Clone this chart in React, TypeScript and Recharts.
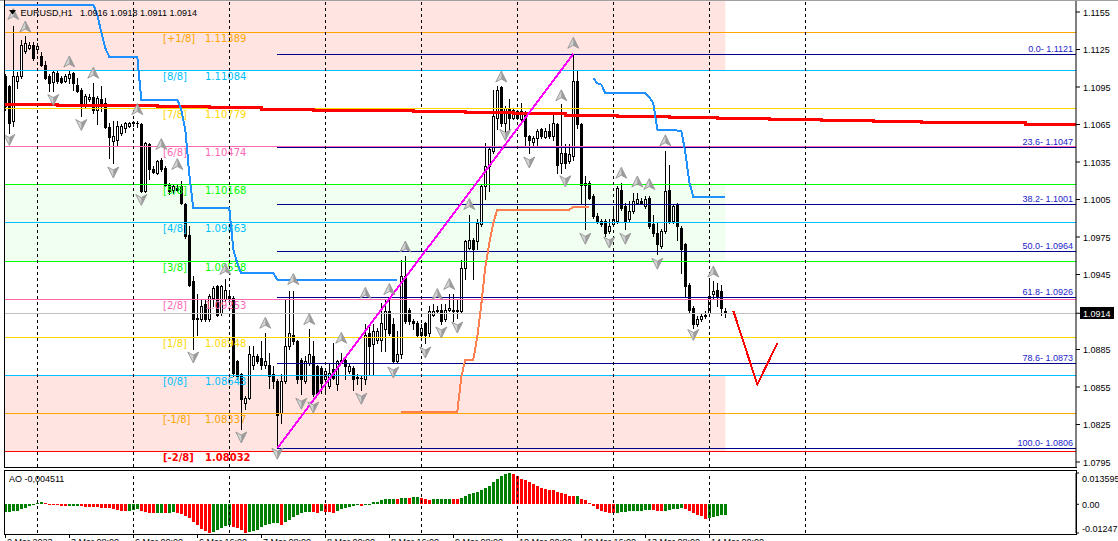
import React from "react";
import {
  ComposedChart,
  Bar,
  Line,
  Scatter,
  XAxis,
  YAxis,
  ReferenceLine,
  ReferenceArea,
} from "recharts";

// EURUSD H1, bar 0 is the leftmost candle
const open = [
  1.1104, 1.1096, 1.1068, 1.11, 1.1104, 1.1124, 1.1126, 1.1129, 1.1125, 1.112,
  1.1113, 1.1104, 1.1099, 1.1106, 1.1102, 1.11, 1.1102, 1.1106, 1.1097, 1.1093,
  1.108, 1.1085, 1.1087, 1.1077, 1.1085, 1.1082, 1.1063, 1.1052, 1.1053, 1.1058,
  1.1062, 1.1064, 1.1066, 1.1066, 1.1065, 1.1012, 1.1049, 1.1029, 1.1026, 1.1037,
  1.103, 1.1017, 1.1013, 1.1014, 1.1016, 1.1001, 1.0977, 1.094, 1.0909, 1.0909,
  1.0921, 1.0909, 1.0926, 1.0936, 1.0914, 1.0925, 1.0925, 1.0926, 1.0876, 1.0865,
  1.0842, 1.0846, 1.0873, 1.088, 1.0878, 1.0873, 1.0873, 1.0865, 1.086, 1.0834,
  1.086, 1.0888, 1.0897, 1.0892, 1.0877, 1.086, 1.0874, 1.088, 1.0872, 1.087,
  1.0861, 1.0856, 1.0869, 1.0857, 1.0876, 1.0877, 1.0868, 1.087, 1.0862, 1.0862,
  1.0861, 1.0898, 1.0889, 1.0893, 1.0893, 1.0901, 1.0916, 1.0905, 1.0876, 1.0881,
  1.0944, 1.0917, 1.0908, 1.0906, 1.0897, 1.0906, 1.0898, 1.0913, 1.0917, 1.0917,
  1.0909, 1.0917, 1.0917, 1.0917, 1.0916, 1.095, 1.0966, 1.0973, 1.0972, 1.0985,
  1.1016, 1.1032, 1.1044, 1.107, 1.1095, 1.1066, 1.1078, 1.107, 1.1076, 1.1069,
  1.1074, 1.1056, 1.1051, 1.1054, 1.1061, 1.1055, 1.106, 1.1056, 1.1065, 1.1034,
  1.1042, 1.1036, 1.104, 1.11, 1.1065, 1.1018, 1.1018, 1.1008, 1.0992, 1.0988,
  1.0988, 1.098, 1.0985, 1.0988, 1.1013, 1.1, 1.0989, 1.0996, 1.1002, 1.1004,
  1.1, 1.1006, 1.0985, 1.0978, 1.0968, 1.098, 1.1013, 1.0988, 1.1001, 1.0982,
  1.0969, 1.0937, 1.0918, 1.0905, 1.0909, 1.0912, 1.0914, 1.0929, 1.0933, 1.0932,
  1.0916,
];
const high = [
  1.1105, 1.1097, 1.1144, 1.1107, 1.1133, 1.1136, 1.1131, 1.1131, 1.113, 1.1123,
  1.1116, 1.1105, 1.1108, 1.1108, 1.1104, 1.1105, 1.1108, 1.1107, 1.1102, 1.1094,
  1.1089, 1.1089, 1.1098, 1.1088, 1.1096, 1.1086, 1.1066, 1.1068, 1.1068, 1.1065,
  1.1067, 1.1067, 1.1068, 1.1068, 1.1066, 1.1051, 1.105, 1.1032, 1.1037, 1.1038,
  1.1032, 1.1018, 1.1017, 1.1017, 1.102, 1.1002, 1.0984, 1.0944, 1.0929, 1.0925,
  1.0925, 1.0929, 1.0936, 1.0937, 1.0937, 1.0941, 1.0933, 1.0928, 1.0877, 1.0866,
  1.0848, 1.0888, 1.0888, 1.0881, 1.0892, 1.0898, 1.0882, 1.0872, 1.0861, 1.0865,
  1.0925, 1.0932, 1.0932, 1.0893, 1.0878, 1.088, 1.0901, 1.0892, 1.0873, 1.0872,
  1.0869, 1.0874, 1.089, 1.0877, 1.0882, 1.088, 1.0874, 1.0872, 1.0865, 1.0864,
  1.0905, 1.0905, 1.0905, 1.0902, 1.0922, 1.0925, 1.0925, 1.091, 1.09, 1.0957,
  1.096, 1.0918, 1.0909, 1.0908, 1.0905, 1.0907, 1.092, 1.0921, 1.092, 1.0921,
  1.0921, 1.0929, 1.0929, 1.0925, 1.0957, 1.0973, 1.0993, 1.0974, 1.0989, 1.1017,
  1.105, 1.1048, 1.1093, 1.1096, 1.1096, 1.108, 1.1085, 1.1078, 1.1077, 1.1082,
  1.1076, 1.1057, 1.1056, 1.1061, 1.1062, 1.1062, 1.1065, 1.1073, 1.1066, 1.1081,
  1.1049, 1.1049, 1.1121, 1.1108, 1.1066, 1.1024, 1.102, 1.1009, 1.0994, 1.0989,
  1.0989, 1.0989, 1.1, 1.1016, 1.1018, 1.1002, 1.1004, 1.101, 1.101, 1.1006,
  1.1008, 1.1008, 1.0993, 1.0986, 1.0981, 1.1044, 1.1033, 1.1001, 1.1002, 1.0984,
  1.097, 1.0938, 1.092, 1.0912, 1.0914, 1.0916, 1.094, 1.094, 1.0938, 1.0937,
  1.0918,
];
const low = [
  1.1077, 1.1058, 1.1064, 1.1094, 1.1102, 1.1122, 1.1125, 1.1117, 1.1122, 1.1112,
  1.1101, 1.1092, 1.1092, 1.1098, 1.1098, 1.1099, 1.1098, 1.1093, 1.1091, 1.1072,
  1.1078, 1.1084, 1.1074, 1.1065, 1.1076, 1.1062, 1.1038, 1.1034, 1.1048, 1.1057,
  1.1059, 1.1063, 1.1064, 1.1063, 1.1011, 1.1011, 1.1021, 1.1026, 1.1025, 1.1028,
  1.1016, 1.1009, 1.101, 1.1012, 1.1001, 1.0974, 1.0936, 1.0885, 1.0897, 1.0908,
  1.0908, 1.0908, 1.092, 1.0912, 1.0913, 1.0924, 1.0924, 1.0864, 1.0861, 1.0821,
  1.0837, 1.0845, 1.0869, 1.0874, 1.0869, 1.087, 1.0854, 1.0854, 1.0806, 1.0826,
  1.0858, 1.0885, 1.0889, 1.0858, 1.0849, 1.0858, 1.0873, 1.0848, 1.0849, 1.085,
  1.0852, 1.0854, 1.0861, 1.0853, 1.0874, 1.0861, 1.0866, 1.0853, 1.0857, 1.0853,
  1.0857, 1.0865, 1.0865, 1.089, 1.0884, 1.0884, 1.0897, 1.0874, 1.0874, 1.0878,
  1.0906, 1.0905, 1.0901, 1.0896, 1.0896, 1.089, 1.0896, 1.0912, 1.0914, 1.0905,
  1.0908, 1.0916, 1.0908, 1.091, 1.0914, 1.0941, 1.0965, 1.0941, 1.0965, 1.0984,
  1.1005, 1.1012, 1.1042, 1.1061, 1.1064, 1.1058, 1.1061, 1.1069, 1.1069, 1.1068,
  1.1048, 1.1042, 1.1048, 1.1048, 1.1054, 1.1054, 1.1054, 1.1053, 1.1026, 1.1026,
  1.103, 1.1034, 1.1037, 1.1062, 1.1001, 1.0981, 1.1005, 1.099, 1.0986, 1.0984,
  1.0976, 1.0978, 1.0984, 1.0986, 1.0997, 1.0981, 1.0988, 1.0994, 1.1001, 1.1001,
  1.0998, 1.0982, 1.0976, 1.0961, 1.0966, 1.0978, 1.0986, 1.0986, 1.0973, 1.0946,
  1.0928, 1.0914, 1.0902, 1.0904, 1.0908, 1.091, 1.0913, 1.0926, 1.092, 1.0913,
  1.0911,
];
const close = [
  1.108, 1.1066, 1.1104, 1.1104, 1.1129, 1.113, 1.1129, 1.1118, 1.1128, 1.1113,
  1.1102, 1.1098, 1.1107, 1.11, 1.1099, 1.1104, 1.1105, 1.1098, 1.1092, 1.1081,
  1.1088, 1.1087, 1.1077, 1.1086, 1.1081, 1.1063, 1.1055, 1.1056, 1.1064, 1.1064,
  1.1066, 1.1066, 1.1067, 1.1066, 1.1012, 1.105, 1.1029, 1.1027, 1.1036, 1.1029,
  1.1017, 1.1012, 1.1016, 1.1013, 1.1002, 1.0976, 1.0937, 1.0909, 1.091, 1.092,
  1.0909, 1.0928, 1.0934, 1.0913, 1.0936, 1.0933, 1.0928, 1.0866, 1.0864, 1.0845,
  1.0846, 1.0881, 1.088, 1.0876, 1.0873, 1.0876, 1.0864, 1.086, 1.0833, 1.086,
  1.0888, 1.0898, 1.0892, 1.0861, 1.0861, 1.0876, 1.0881, 1.0849, 1.085, 1.0858,
  1.0868, 1.0866, 1.0862, 1.0876, 1.0877, 1.0872, 1.0872, 1.0861, 1.0863, 1.0862,
  1.0897, 1.0888, 1.09, 1.09, 1.0906, 1.0916, 1.0898, 1.0876, 1.0881, 1.0944,
  1.0908, 1.0908, 1.0906, 1.0897, 1.0902, 1.0897, 1.0916, 1.0916, 1.0916, 1.0908,
  1.0917, 1.0918, 1.0916, 1.0916, 1.095, 1.0972, 1.0973, 1.0965, 1.0986, 1.1016,
  1.1032, 1.1045, 1.1072, 1.1093, 1.1066, 1.1078, 1.107, 1.1077, 1.107, 1.1076,
  1.1056, 1.1053, 1.1054, 1.106, 1.1056, 1.106, 1.1056, 1.1066, 1.1033, 1.1042,
  1.1034, 1.1041, 1.11, 1.1065, 1.1017, 1.1017, 1.1006, 1.0992, 1.0988, 1.0985,
  1.0978, 1.0984, 1.0989, 1.1014, 1.0998, 1.0988, 1.0996, 1.1004, 1.1005, 1.1002,
  1.1005, 1.0984, 1.0978, 1.0969, 1.098, 1.1012, 1.0988, 1.1, 1.0984, 1.0965,
  1.0936, 1.0917, 1.0905, 1.0909, 1.0912, 1.0913, 1.0928, 1.0932, 1.0928, 1.0918,
  1.0914,
];

// Awesome Oscillator, one value per candle
const aoValues = [
  -0.0034, -0.0033, -0.0029, -0.0027, -0.0021, -0.0016, -0.0008, -0.0002, 0.0006, 0.0008,
  0.0005, 0.0002, -0.0001, -0.0003, -0.0007, -0.0008, -0.0007, -0.0007, -0.0006, -0.0009,
  -0.001, -0.0011, -0.0012, -0.0013, -0.0014, -0.0015, -0.0017, -0.0021, -0.0025, -0.0029,
  -0.003, -0.0028, -0.0025, -0.0021, -0.0027, -0.0033, -0.0037, -0.0039, -0.0038, -0.0036,
  -0.0038, -0.0037, -0.0033, -0.0036, -0.0042, -0.0049, -0.0061, -0.0078, -0.0089, -0.0106,
  -0.0117, -0.0123, -0.0121, -0.0111, -0.0102, -0.0094, -0.0089, -0.0098, -0.0104, -0.011,
  -0.01247, -0.0121, -0.0117, -0.0111, -0.0098, -0.0091, -0.0087, -0.0083, -0.0082, -0.0089,
  -0.0078, -0.0069, -0.0055, -0.0046, -0.0038, -0.0033, -0.0032, -0.0035, -0.0036, -0.003,
  -0.0033, -0.0035, -0.0036, -0.0027, -0.0021, -0.0016, -0.001, -0.0008, -0.0004, -0.0007,
  -0.0003, 0.0002, 0.0008, 0.0012, 0.0018, 0.0023, 0.0024, 0.0025, 0.0024, 0.0028,
  0.0029, 0.0028, 0.0031, 0.0032, 0.0028, 0.0021, 0.0018, 0.0021, 0.0023, 0.0023,
  0.0024, 0.0025, 0.0024, 0.0023, 0.0028, 0.0035, 0.0043, 0.0047, 0.0053, 0.006,
  0.007, 0.0081, 0.0096, 0.0112, 0.0124, 0.013, 0.013595, 0.0131, 0.0124, 0.0112,
  0.0105, 0.0096, 0.0086, 0.0078, 0.007, 0.0066, 0.0063, 0.006, 0.0053, 0.0047,
  0.0043, 0.0038, 0.0035, 0.0036, 0.0024, 0.0017, 0.0006, -0.0008, -0.0019, -0.0027,
  -0.0033, -0.0036, -0.0039, -0.0036, -0.0034, -0.0033, -0.003, -0.0029, -0.0028, -0.0027,
  -0.0026, -0.0025, -0.0026, -0.0028, -0.003, -0.0027, -0.0024, -0.0021, -0.0019, -0.0017,
  -0.0021, -0.003, -0.0038, -0.0046, -0.0052, -0.0062, -0.006, -0.0055, -0.005, -0.0047,
  -0.004511,
];

// Murrey Math levels
const murreyLevels = [
  1.11389, 1.11084, 1.10779, 1.10474, 1.10168, 1.09863, 1.09558, 1.09253, 1.08948,
  1.08643, 1.08337, 1.08032,
];
const murreyNames = [
  "[+1/8]", "[8/8]", "[7/8]", "[6/8]", "[5/8]", "[4/8]", "[3/8]", "[2/8]", "[1/8]",
  "[0/8]", "[-1/8]", "[-2/8]",
];
const murreyColors = [
  "#FFA500", "#00BFFF", "#FFD700", "#FF69B4", "#00FF00", "#00BFFF", "#00FF00",
  "#FF69B4", "#FFD700", "#00BFFF", "#FFA500", "#FF0000",
];

// Fibonacci retracement drawn from the swing low to the swing high
const fibLevels = [1.11214, 1.1047, 1.10009, 1.09637, 1.09265, 1.08735, 1.0806];
const fibNames = [
  "0.0- 1.1121", "23.6- 1.1047", "38.2- 1.1001", "50.0- 1.0964", "61.8- 1.0926",
  "78.6- 1.0873", "100.0- 1.0806",
];
const fibFromBar = 68;

const trendBars = [68, 142];
const trendValues = [1.0806, 1.11214];

const zigzagBars = [182, 188, 193];
const zigzagValues = [1.0916, 1.0857, 1.089];

// slow red average (steps), runs into the future area
const maBars = [-1, 13, 38, 51, 64, 77, 89, 102, 115, 127, 140, 153, 166, 178, 191, 204, 217, 229, 242, 255, 268];
const maValues = [
  1.10814, 1.108, 1.10792, 1.10784, 1.10774, 1.10766, 1.1076, 1.10752, 1.10744, 1.10736,
  1.10726, 1.10718, 1.1071, 1.10702, 1.10694, 1.10686, 1.10678, 1.1067, 1.10664, 1.10654,
  1.10654,
];

// blue trailing stop, two runs
const stopBars1 = [0, 22, 23, 24, 25, 26, 33, 34, 43, 44, 45, 46, 47, 56, 57, 58, 59, 67, 68, 98];
const stopValues1 = [
  1.1161, 1.1161, 1.11526, 1.1139, 1.1126, 1.1119, 1.1119, 1.1085, 1.1085, 1.1077,
  1.1061, 1.1025, 1.0998, 1.0998, 1.0965, 1.0954, 1.0946, 1.0946, 1.0941, 1.0941,
];
const stopBars2 = [147, 148, 149, 150, 160, 161, 162, 163, 169, 170, 171, 172, 180];
const stopValues2 = [
  1.1102, 1.1098, 1.1097, 1.109, 1.109, 1.1087, 1.1082, 1.1061, 1.106, 1.1043, 1.1019,
  1.1007, 1.1007,
];

// coral trailing line
const coralBars = [99, 113, 114, 115, 117, 118, 119, 120, 121, 122, 123, 141, 142, 146];
const coralValues = [
  1.0835, 1.0835, 1.0863, 1.0877, 1.0877, 1.0895, 1.0921, 1.0951, 1.097, 1.0986, 1.0997,
  1.0997, 1.0999, 1.0999,
];

// fractal arrows [bar, price]
const fractalUp = [
  [2, 1.1153], [5, 1.1143], [16, 1.1115], [22, 1.1106], [33, 1.1077], [39, 1.1049],
  [43, 1.1033], [55, 1.0949], [65, 1.0906], [72, 1.0941], [76, 1.0909], [84, 1.0894],
  [90, 1.093], [96, 1.0933], [100, 1.0967], [108, 1.0929], [111, 1.0937], [116, 1.1001],
  [124, 1.1103], [139, 1.1088], [142, 1.113], [154, 1.1026], [158, 1.1019], [161, 1.1017],
  [165, 1.1052], [177, 1.0947],
];
const fractalDown = [
  [1, 1.1053], [12, 1.1085], [19, 1.1065], [27, 1.1027], [34, 1.1005], [47, 1.0879],
  [59, 1.0815], [68, 1.0802], [74, 1.0842], [77, 1.0839], [89, 1.0846], [97, 1.0867],
  [105, 1.0883], [109, 1.0899], [113, 1.0903], [125, 1.1057], [131, 1.1035], [140, 1.102],
  [145, 1.0974], [151, 1.0971], [155, 1.0974], [163, 1.0954], [172, 1.0897],
];

const daySeparatorBars = [8, 32, 56, 80, 104, 128, 152, 176, 200];
const timeLabelBars = [0, 16, 32, 48, 64, 80, 96, 112, 128, 144, 160, 176];
const timeLabels = [
  "2 Mar 2023", "3 Mar 08:00", "6 Mar 00:00", "6 Mar 16:00", "7 Mar 08:00", "8 Mar 00:00",
  "8 Mar 16:00", "9 Mar 08:00", "10 Mar 00:00", "10 Mar 16:00", "13 Mar 08:00", "14 Mar 00:00",
];
const priceTicks = [
  1.1155, 1.1125, 1.1095, 1.1065, 1.1035, 1.1005, 1.0975, 1.0945, 1.0885, 1.0855, 1.0825, 1.0795,
];
const aoTicks = [0.013595, 0, -0.01247];
const aoTickLabels = ["0.013595", "0.00", "-0.01247"];

const W = 1118;
const MAIN_H = 467;
const AO_TOP = 468;
const AO_H = 73;
const AXIS_W = 42;
const PLOT_LEFT = 4;
const X_DOMAIN: [number, number] = [-0.325, 267.675];
const PRICE_DOMAIN: [number, number] = [1.0791, 1.11646];
const AO_DOMAIN: [number, number] = [-0.01247, 0.013595];

const lastIdx = close.length - 1;
const lastPrice = close[lastIdx];

const candles = open.map((o, i) => ({
  i,
  o,
  h: high[i],
  l: low[i],
  c: close[i],
  range: [low[i], high[i]],
}));

const aoRows = (() => {
  let up = true;
  return aoValues.map((v, i) => {
    if (i > 0 && v > aoValues[i - 1]) up = true;
    else if (i > 0 && v < aoValues[i - 1]) up = false;
    return { i, ao: v, up };
  });
})();

const toPoints = (bars: number[], vals: number[]) => bars.map((i, k) => ({ i, v: vals[k] }));

function CandleShape(props: any) {
  const { x, y, width, height, payload } = props;
  if (!payload) return null;
  const { o, h, l, c } = payload;
  const cx = Math.round(x + width / 2) + 0.5;
  const yTop = Math.min(y, y + height);
  const yBot = Math.max(y, y + height);
  const py = (v: number) => yTop + ((h - v) / (h - l)) * (yBot - yTop);
  const top = Math.round(py(Math.max(o, c))) + 0.5;
  const bot = Math.round(py(Math.min(o, c))) + 0.5;
  return (
    <g>
      <line x1={cx} x2={cx} y1={Math.round(yTop)} y2={Math.round(yBot) + 1} stroke="#000" />
      {bot - top < 1 ? (
        <line x1={cx - 1.5} x2={cx + 1.5} y1={top} y2={top} stroke="#000" />
      ) : (
        <rect x={cx - 1} y={top} width={2} height={bot - top} fill={c >= o ? "#fff" : "#000"} stroke="#000" />
      )}
    </g>
  );
}

function AoShape(props: any) {
  const { x, y, width, height, payload } = props;
  if (!payload) return null;
  const cx = Math.round(x + width / 2);
  const y0 = Math.round(Math.min(y, y + height));
  const y1 = Math.round(Math.max(y, y + height));
  return <rect x={cx - 1} y={y0} width={3} height={Math.max(1, y1 - y0)} fill={payload.up ? "#008000" : "#FF0000"} />;
}

// grey 3d arrowheads as drawn by the fractals indicator
function UpArrow(props: any) {
  const { cx, cy } = props;
  if (cx == null) return null;
  return (
    <g>
      <path d={`M${cx},${cy - 6} L${cx + 5.5},${cy + 5} L${cx},${cy + 2} L${cx - 5.5},${cy + 5} Z`} fill="#D4D4D4" stroke="#8A8A8A" strokeWidth={0.8} />
      <path d={`M${cx},${cy - 6} L${cx + 5.5},${cy + 5} L${cx},${cy + 2} Z`} fill="#9C9C9C" />
    </g>
  );
}

function DownArrow(props: any) {
  const { cx, cy } = props;
  if (cx == null) return null;
  return (
    <g>
      <path d={`M${cx},${cy + 6} L${cx + 5.5},${cy - 5} L${cx},${cy - 2} L${cx - 5.5},${cy - 5} Z`} fill="#D4D4D4" stroke="#8A8A8A" strokeWidth={0.8} />
      <path d={`M${cx},${cy + 6} L${cx + 5.5},${cy - 5} L${cx},${cy - 2} Z`} fill="#9C9C9C" />
    </g>
  );
}

const murreyLabel = (k: number) => (props: any) => {
  const vb = props.viewBox;
  if (!vb) return null;
  const y = vb.y + 9.5;
  return (
    <g fontFamily="DejaVu Sans" fontSize={10} fill={murreyColors[k]} fontWeight={k === 11 ? "bold" : "normal"}>
      <text x={vb.x + 159} y={y}>{murreyNames[k]}</text>
      <text x={vb.x + 201} y={y}>{murreyLevels[k].toFixed(5)}</text>
    </g>
  );
};

const fibLabel = (k: number) => (props: any) => {
  const vb = props.viewBox;
  if (!vb) return null;
  return (
    <text x={PLOT_LEFT + 1069} y={vb.y - 2.5} textAnchor="end" fontSize={9} fill="#1C1CCC">
      {fibNames[k]}
    </text>
  );
};

function PriceTick(props: any) {
  const { x, y, payload } = props;
  const v = payload.value;
  const yy = Math.round(y);
  if (v === lastPrice) {
    return (
      <g>
        <rect x={x - 3} y={yy - 6} width={34} height={12} fill="#000" />
        <text x={x} y={yy + 3.5} fontSize={9} fill="#fff">{v.toFixed(4)}</text>
      </g>
    );
  }
  return (
    <text x={x} y={yy + 3.5} fontSize={9} fill="#000">{v.toFixed(4)}</text>
  );
}

function AoTick(props: any) {
  const { x, y, payload, index } = props;
  const shift = index === 0 ? 5 : index === 2 ? -5 : 0;
  return (
    <text x={x} y={Math.round(y) + shift + 3.5} fontSize={9} fill="#000">{aoTickLabels[index] ?? String(payload.value)}</text>
  );
}

function TimeTick(props: any) {
  const { x, y, payload } = props;
  const k = timeLabelBars.indexOf(payload.value);
  const px = Math.round(x) + 0.5;
  return (
    <g>
      <line x1={px} x2={px} y1={y} y2={y + 3} stroke="#000" />
      <text x={px + 1.5} y={y + 10} fontSize={9} fill="#000">{timeLabels[k]}</text>
    </g>
  );
}

const crisp = "crispEdges";

export default function App() {
  const header = `${open[lastIdx].toFixed(4)} ${high[lastIdx].toFixed(4)} ${low[lastIdx].toFixed(4)} ${close[lastIdx].toFixed(4)}`;
  const aoText = `AO ${aoValues[lastIdx].toFixed(6).replace(".", ",")}`;
  return (
    <div style={{ position: "relative", width: W, height: 541, background: "#fff", fontFamily: '"Liberation Sans", Arial, sans-serif', overflow: "hidden" }}>
      <style>{"body{margin:0}"}</style>
      <div style={{ position: "absolute", left: 0, top: 0 }}>
        <ComposedChart width={W} height={MAIN_H} data={candles} margin={{ top: 0, right: 0, bottom: 0, left: PLOT_LEFT }}>
          <XAxis type="number" dataKey="i" domain={X_DOMAIN} allowDataOverflow hide />
          <YAxis
            orientation="right"
            type="number"
            domain={PRICE_DOMAIN}
            allowDataOverflow
            width={AXIS_W}
            ticks={[...priceTicks, lastPrice]}
            interval={0}
            tick={PriceTick}
            tickSize={4}
            tickMargin={3}
            axisLine={{ stroke: "#000" }}
            tickLine={{ stroke: "#000" }}
          />
          <ReferenceArea x1={X_DOMAIN[0]} x2={lastIdx} y1={murreyLevels[1]} y2={PRICE_DOMAIN[1] + 0.001} fill="#FFE4E1" fillOpacity={1} stroke="none" ifOverflow="hidden" />
          <ReferenceArea x1={X_DOMAIN[0]} x2={lastIdx} y1={murreyLevels[6]} y2={murreyLevels[4]} fill="#F0FFF0" fillOpacity={1} stroke="none" ifOverflow="hidden" />
          <ReferenceArea x1={X_DOMAIN[0]} x2={lastIdx} y1={murreyLevels[11]} y2={murreyLevels[9]} fill="#FFE4E1" fillOpacity={1} stroke="none" ifOverflow="hidden" />
          {murreyLevels.map((lv, k) => (
            <ReferenceLine key={`m${k}`} y={lv} stroke={murreyColors[k]} strokeWidth={1} shapeRendering={crisp} ifOverflow="hidden" label={murreyLabel(k)} />
          ))}
          {fibLevels.map((lv, k) => (
            <ReferenceLine
              key={`f${k}`}
              segment={[{ x: fibFromBar, y: lv }, { x: 268, y: lv }]}
              stroke="#00008B"
              strokeWidth={1}
              shapeRendering={crisp}
              ifOverflow="hidden"
              label={fibLabel(k)}
            />
          ))}
          <ReferenceLine y={lastPrice} stroke="#C0C0C0" strokeWidth={1} shapeRendering={crisp} ifOverflow="hidden" />
          {daySeparatorBars.map((b) => (
            <ReferenceLine key={`d${b}`} x={b} stroke="#000" strokeDasharray="3 3" shapeRendering={crisp} ifOverflow="hidden" />
          ))}
          <Bar dataKey="range" shape={CandleShape} barSize={4} isAnimationActive={false} />
          <Line data={toPoints(maBars, maValues)} dataKey="v" type="stepAfter" stroke="#FF0000" strokeWidth={3} shapeRendering={crisp} dot={false} activeDot={false} isAnimationActive={false} />
          <Line data={toPoints(stopBars1, stopValues1)} dataKey="v" type="linear" stroke="#1E90FF" strokeWidth={2} shapeRendering={crisp} dot={false} activeDot={false} isAnimationActive={false} />
          <Line data={toPoints(stopBars2, stopValues2)} dataKey="v" type="linear" stroke="#1E90FF" strokeWidth={2} shapeRendering={crisp} dot={false} activeDot={false} isAnimationActive={false} />
          <Line data={toPoints(coralBars, coralValues)} dataKey="v" type="linear" stroke="#FF7F50" strokeWidth={2} shapeRendering={crisp} dot={false} activeDot={false} isAnimationActive={false} />
          <Line data={toPoints(trendBars, trendValues)} dataKey="v" type="linear" stroke="#FF00FF" strokeWidth={2} shapeRendering={crisp} dot={false} activeDot={false} isAnimationActive={false} />
          <Line data={toPoints(zigzagBars, zigzagValues)} dataKey="v" type="linear" stroke="#FF0000" strokeWidth={2} shapeRendering={crisp} dot={false} activeDot={false} isAnimationActive={false} />
          <Scatter data={fractalUp.map(([i, v]) => ({ i, v }))} dataKey="v" shape={UpArrow} isAnimationActive={false} />
          <Scatter data={fractalDown.map(([i, v]) => ({ i, v }))} dataKey="v" shape={DownArrow} isAnimationActive={false} />
        </ComposedChart>
      </div>
      <div style={{ position: "absolute", left: 0, top: AO_TOP }}>
        <ComposedChart width={W} height={AO_H} data={aoRows} margin={{ top: 5, right: 0, bottom: 0, left: PLOT_LEFT }}>
          <XAxis
            type="number"
            dataKey="i"
            domain={X_DOMAIN}
            allowDataOverflow
            height={8}
            ticks={timeLabelBars}
            interval={0}
            tick={TimeTick}
            tickLine={false}
            axisLine={false}
            tickSize={2}
            tickMargin={0}
          />
          <YAxis
            orientation="right"
            type="number"
            domain={AO_DOMAIN}
            allowDataOverflow
            width={AXIS_W}
            ticks={aoTicks}
            interval={0}
            tick={AoTick}
            tickSize={3}
            tickMargin={3}
            axisLine={{ stroke: "#000" }}
            tickLine={{ stroke: "#000" }}
          />
          {daySeparatorBars.map((b) => (
            <ReferenceLine key={`a${b}`} x={b} stroke="#000" strokeDasharray="3 3" shapeRendering={crisp} ifOverflow="hidden" />
          ))}
          <Bar dataKey="ao" shape={AoShape} barSize={4} isAnimationActive={false} />
        </ComposedChart>
      </div>
      <svg width={W} height={541} style={{ position: "absolute", left: 0, top: 0, pointerEvents: "none" }}>
        <line x1={0} x2={W} y1={0.5} y2={0.5} stroke="#A0A0A0" />
        <line x1={PLOT_LEFT + 0.5} x2={PLOT_LEFT + 0.5} y1={0} y2={MAIN_H + 0.5} stroke="#000" />
        <line x1={PLOT_LEFT} x2={W - AXIS_W + 1} y1={MAIN_H + 0.5} y2={MAIN_H + 0.5} stroke="#000" />
        <rect x={PLOT_LEFT + 0.5} y={470.5} width={W - AXIS_W - PLOT_LEFT} height={64} fill="none" stroke="#000" />
        <path d="M9,10 L16,10 L12.5,14.5 Z" fill="#000" />
        <text x={20.5} y={15.5} fontSize={9} fill="#000">EURUSD,H1</text>
        <text x={80} y={15.5} fontSize={9} fill="#000">{header}</text>
        <text x={9} y={481.5} fontSize={9} fill="#000">{aoText}</text>
      </svg>
    </div>
  );
}
